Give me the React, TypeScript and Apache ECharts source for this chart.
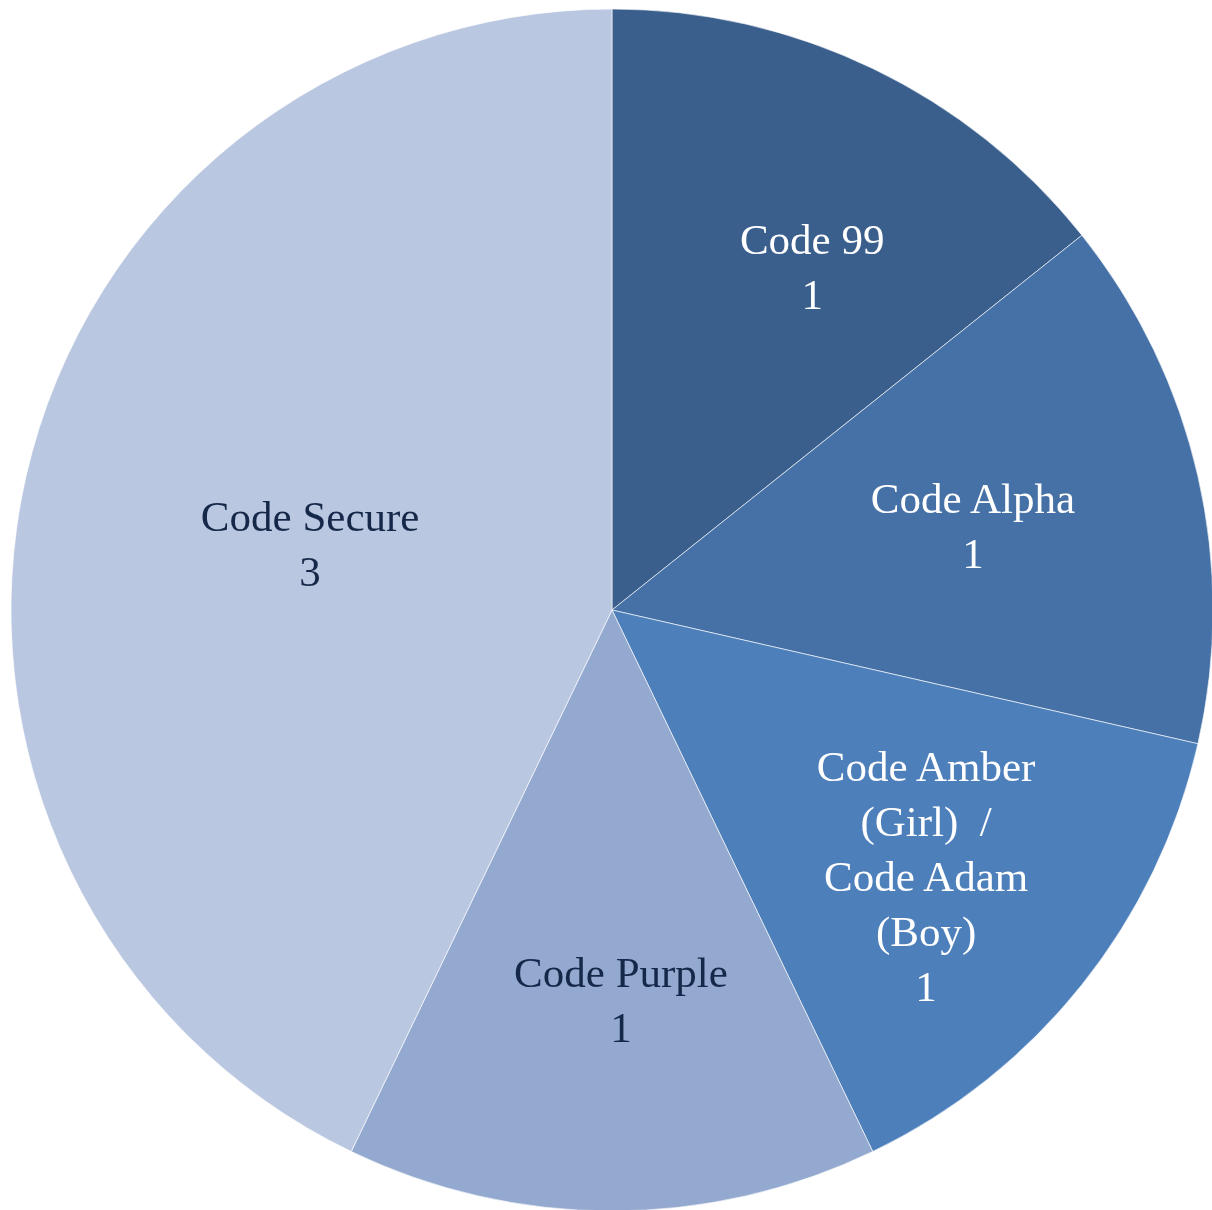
import React, { useEffect, useRef } from "react";
import * as echarts from "echarts";

const categories = [
  "Code 99",
  "Code Alpha",
  "Code Amber\n(Girl)  /\nCode Adam\n(Boy)",
  "Code Purple",
  "Code Secure",
];
const values = [1, 1, 1, 1, 3];
const colors = ["#3B5F8D", "#4571A6", "#4D7FBB", "#94A9CF", "#BAC7E0"];
const labelColors = ["#FFFFFF", "#FFFFFF", "#FFFFFF", "#15284A", "#15284A"];
const labelOffsets = [[32, 6], [-17, 2], [11, 25], [9, 2], [-6, 2]];

export default function App() {
  const ref = useRef<HTMLDivElement>(null);
  useEffect(() => {
    const chart = echarts.init(ref.current!, null, { renderer: "svg" });
    const R = 601;
    const center = [612, 610];
    const font = {
      fontFamily: "'Liberation Serif', 'DejaVu Serif', serif",
      fontSize: 43,
      lineHeight: 55,
    };
    const mainData = categories.map((name, i) => ({
      name,
      value: values[i],
      itemStyle: { color: colors[i] },
      label: { show: i === 4, color: labelColors[i], offset: labelOffsets[i] },
    }));
    const overlayData = categories.map((name, i) => ({
      name,
      value: values[i],
      itemStyle: { color: "rgba(0,0,0,0)" },
      label: { show: i !== 4, color: labelColors[i], offset: labelOffsets[i] },
    }));
    chart.setOption({
      animation: false,
      series: [
        {
          type: "pie",
          center,
          radius: [0, R],
          startAngle: 90,
          clockwise: true,
          avoidLabelOverlap: false,
          itemStyle: { borderColor: "rgba(255,255,255,0.6)", borderWidth: 1 },
          label: { position: "inside", formatter: "{b}\n{c}", ...font },
          labelLine: { show: false },
          emphasis: { disabled: true },
          data: mainData,
        },
        {
          type: "pie",
          center,
          radius: [0.28 * R, R],
          startAngle: 90,
          clockwise: true,
          silent: true,
          avoidLabelOverlap: false,
          label: { position: "inside", formatter: "{b}\n{c}", ...font },
          labelLine: { show: false },
          emphasis: { disabled: true },
          data: overlayData,
        },
      ],
    });
    return () => chart.dispose();
  }, []);
  return (
    <div
      ref={ref}
      style={{ position: "fixed", left: 0, top: 0, width: 1212, height: 1210 }}
    />
  );
}
